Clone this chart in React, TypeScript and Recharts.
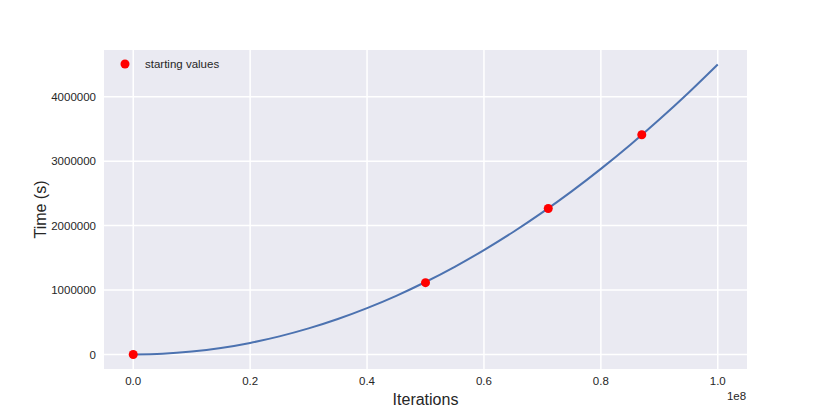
import React from 'react';
import { ComposedChart, Line, Scatter, XAxis, YAxis, CartesianGrid, Legend, Label } from 'recharts';

// fitted curve
const curveIterations = [
  0, 5000000, 10000000, 15000000, 20000000, 25000000, 30000000, 35000000, 40000000, 45000000, 50000000,
  55000000, 60000000, 65000000, 70000000, 75000000, 80000000, 85000000, 90000000, 95000000, 100000000,
];
const curveTime = [
  0, 11000, 45000, 101000, 180000, 281000, 405000, 551000, 720000, 911000, 1125000,
  1361000, 1620000, 1901000, 2205000, 2531000, 2880000, 3251000, 3645000, 4061000, 4500000,
];

// red markers
const startIterations = [0, 50000000, 71000000, 87000000];
const startTime = [0, 1115000, 2265000, 3410000];

const xTicks = [0, 20000000, 40000000, 60000000, 80000000, 100000000];
const yTicks = [0, 1000000, 2000000, 3000000, 4000000];

const curveData = curveIterations.map((x, i) => ({ x, y: curveTime[i] }));
const startData = startIterations.map((x, i) => ({ x, y: startTime[i] }));

const font = '"Liberation Sans", Arial, sans-serif';
const textColor = '#262626';

const LegendContent = () => (
  <div style={{ display: 'flex', alignItems: 'center', fontFamily: font, fontSize: 11.5, color: textColor }}>
    <svg width={10} height={10} style={{ marginRight: 15 }}>
      <circle cx={5} cy={5} r={4.5} fill="#FF0000" />
    </svg>
    <span>starting values</span>
  </div>
);

export default function App() {
  return (
    <div style={{ position: 'absolute', left: 0, top: 0, background: '#fff' }}>
      <ComposedChart width={830} height={415} margin={{ top: 50, right: 83, left: 0, bottom: 16 }}>
        <CartesianGrid fill="#EAEAF2" stroke="#FFFFFF" strokeWidth={1.5} horizontalValues={yTicks} verticalValues={xTicks} />
        <XAxis
          type="number"
          dataKey="x"
          domain={[-5000000, 105000000]}
          ticks={xTicks}
          allowDataOverflow
          tickFormatter={(v: number) => (v / 100000000).toFixed(1)}
          axisLine={false}
          tickLine={false}
          tickSize={0}
          tickMargin={8}
          height={30}
          tick={{ fontSize: 11.5, fill: textColor, fontFamily: font }}
        >
          <Label value="Iterations" position="center" dy={15} style={{ fontSize: 16, fill: textColor, fontFamily: font }} />
          <Label value="1e8" position="center" dx={311} dy={12} style={{ fontSize: 11.5, fill: textColor, fontFamily: font }} />
        </XAxis>
        <YAxis
          type="number"
          dataKey="y"
          domain={[-225000, 4725000]}
          ticks={yTicks}
          allowDataOverflow
          axisLine={false}
          tickLine={false}
          tickSize={0}
          tickMargin={8}
          width={104}
          tick={{ fontSize: 11.5, fill: textColor, fontFamily: font }}
        >
          <Label value="Time (s)" angle={-90} position="center" dx={-12} style={{ fontSize: 16, fill: textColor, fontFamily: font }} />
        </YAxis>
        <Legend
          layout="vertical"
          align="center"
          verticalAlign="middle"
          content={<LegendContent />}
          wrapperStyle={{ position: 'absolute', left: 120, top: 58, width: 'auto' }}
        />
        <Scatter
          data={startData}
          dataKey="y"
          fill="#FF0000"
          shape={(p: any) => <circle cx={p.cx} cy={p.cy} r={4.5} fill="#FF0000" />}
          isAnimationActive={false}
        />
        <Line
          data={curveData}
          dataKey="y"
          type="monotone"
          stroke="#4C72B0"
          strokeWidth={2}
          dot={false}
          activeDot={false}
          isAnimationActive={false}
          legendType="none"
        />
      </ComposedChart>
    </div>
  );
}
